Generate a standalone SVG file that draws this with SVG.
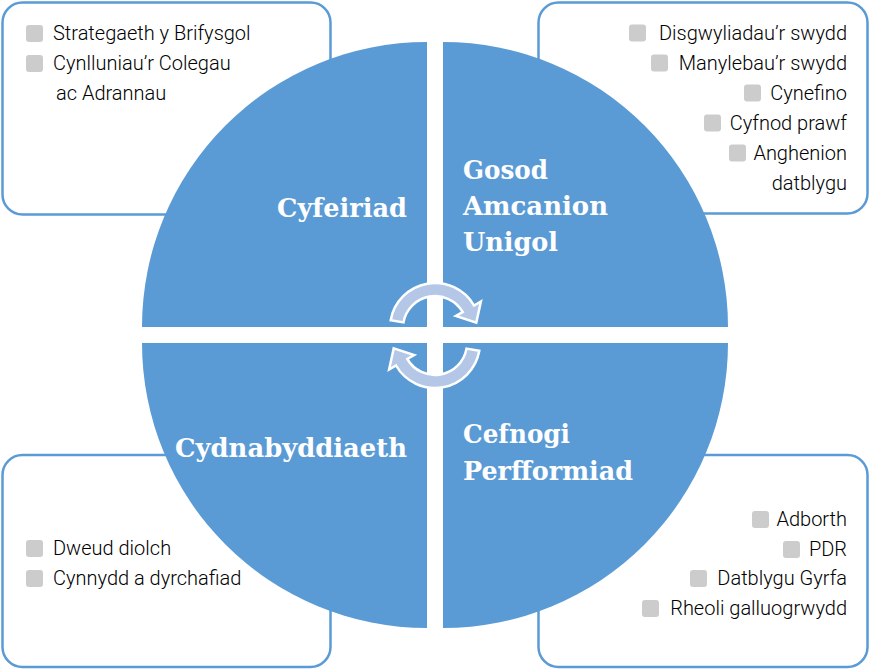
<svg xmlns="http://www.w3.org/2000/svg" width="870" height="670" viewBox="0 0 870 670">
<style>
.box{fill:#ffffff;stroke:#5b9bd5;stroke-width:2.5}
.q{fill:#5b9bd5}
.b{fill:#cccccc}
.t{font-family:Roboto,"Liberation Sans",sans-serif;font-weight:300;font-size:20px;fill:#000000}
.r{text-anchor:end}
.lab{font-family:"DejaVu Serif","Liberation Serif",serif;font-weight:bold;font-size:26px;fill:#ffffff}
.arr{fill:#b4c7e7;stroke:#ffffff;stroke-width:2.5;stroke-linejoin:miter}
</style>
<rect width="870" height="670" fill="#ffffff"/>
<g id="box-tl">
<rect class="box" x="2.5" y="2.5" width="328" height="212" rx="20"/>
<rect class="b" x="26" y="25" width="17" height="17" rx="3"/>
<rect class="b" x="26" y="55" width="17" height="17" rx="3"/>
<text class="t" x="53" y="40">Strategaeth y Brifysgol</text>
<text class="t" x="53" y="70">Cynlluniau’r Colegau</text>
<text class="t" x="56" y="100">ac Adrannau</text>
</g>
<g id="box-tr">
<rect class="box" x="538.5" y="2.5" width="329" height="211" rx="20"/>
<rect class="b" x="629" y="24.5" width="17" height="17" rx="3"/>
<rect class="b" x="651" y="54.5" width="17" height="17" rx="3"/>
<rect class="b" x="744" y="84.5" width="17" height="17" rx="3"/>
<rect class="b" x="704" y="114.5" width="17" height="17" rx="3"/>
<rect class="b" x="729" y="144.5" width="17" height="17" rx="3"/>
<text class="t r" x="847" y="40">Disgwyliadau’r swydd</text>
<text class="t r" x="847" y="70">Manylebau’r swydd</text>
<text class="t r" x="847" y="100">Cynefino</text>
<text class="t r" x="847" y="130">Cyfnod prawf</text>
<text class="t r" x="847" y="160">Anghenion</text>
<text class="t r" x="847" y="190">datblygu</text>
</g>
<g id="box-bl">
<rect class="box" x="2.5" y="455" width="328" height="212" rx="20"/>
<rect class="b" x="26" y="540" width="17" height="17" rx="3"/>
<rect class="b" x="26" y="570" width="17" height="17" rx="3"/>
<text class="t" x="53" y="555">Dweud diolch</text>
<text class="t" x="53" y="585">Cynnydd a dyrchafiad</text>
</g>
<g id="box-br">
<rect class="box" x="538.5" y="455" width="329" height="212" rx="20"/>
<rect class="b" x="752" y="511" width="17" height="17" rx="3"/>
<rect class="b" x="783" y="541" width="17" height="17" rx="3"/>
<rect class="b" x="690" y="570" width="17" height="17" rx="3"/>
<rect class="b" x="642" y="600" width="17" height="17" rx="3"/>
<text class="t r" x="847" y="526">Adborth</text>
<text class="t r" x="847" y="556">PDR</text>
<text class="t r" x="847" y="585">Datblygu Gyrfa</text>
<text class="t r" x="847" y="615">Rheoli galluogrwydd</text>
</g>
<g id="q-tl">
<path class="q" d="M427,327 L142,327 A285,285 0 0 1 427,42 Z"/>
<text class="lab" x="277" y="217" textLength="130" lengthAdjust="spacingAndGlyphs">Cyfeiriad</text>
</g>
<g id="q-tr">
<path class="q" d="M443,327 L443,42 A285,285 0 0 1 728,327 Z"/>
<text class="lab" x="463" y="179" textLength="85" lengthAdjust="spacingAndGlyphs">Gosod</text>
<text class="lab" x="463" y="215" textLength="145" lengthAdjust="spacingAndGlyphs">Amcanion</text>
<text class="lab" x="463" y="251" textLength="95" lengthAdjust="spacingAndGlyphs">Unigol</text>
</g>
<g id="q-bl">
<path class="q" d="M427,343 L427,628 A285,285 0 0 1 142,343 Z"/>
<text class="lab" x="175" y="457" textLength="232" lengthAdjust="spacingAndGlyphs">Cydnabyddiaeth</text>
</g>
<g id="q-br">
<path class="q" d="M443,343 L728,343 A285,285 0 0 1 443,628 Z"/>
<text class="lab" x="463" y="443" textLength="107" lengthAdjust="spacingAndGlyphs">Cefnogi</text>
<text class="lab" x="463" y="480" textLength="170" lengthAdjust="spacingAndGlyphs">Perfformiad</text>
</g>
<g id="connectors">
<path class="arr" d="M390.7,320.2 A45,45 0 0 1 474,305.5 L480.9,301.5 L476.3,322.6 L455.8,316 L462.7,312 A32,32 0 0 0 403.5,322.4 Z"/>
<path class="arr" transform="rotate(180 435 335.5)" d="M390.7,320.2 A45,45 0 0 1 474,305.5 L480.9,301.5 L476.3,322.6 L455.8,316 L462.7,312 A32,32 0 0 0 403.5,322.4 Z"/>
</g>
</svg>
